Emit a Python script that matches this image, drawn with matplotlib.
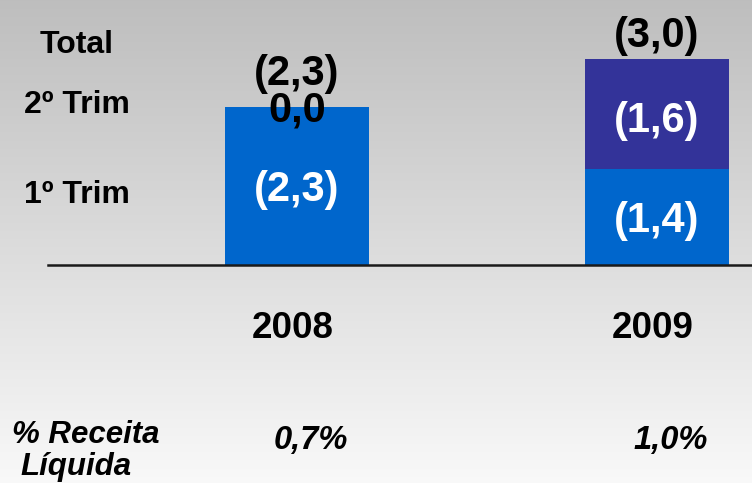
import numpy as np
import matplotlib
matplotlib.use("Agg")
import matplotlib.pyplot as plt

years = ["2008", "2009"]
q1 = [2.3, 1.4]
q2 = [0.0, 1.6]
totals = [2.3, 3.0]
pct_receita = ["0,7%", "1,0%"]
row_labels = ["Total", "2º Trim", "1º Trim"]

c_q1 = "#0066CC"
c_q2 = "#333399"

def fmt(v):
    s = f"{v:.1f}".replace(".", ",")
    return s if v == 0 else f"({s})"

W, H = 752, 483
fig = plt.figure(figsize=(W / 100, H / 100), dpi=100)
plt.rcParams['font.family'] = ['Liberation Sans', 'DejaVu Sans']

# background gradient
bg = fig.add_axes([0, 0, 1, 1], zorder=0)
grad = np.linspace(0, 1, 256)[:, None]
top = np.array([0.745, 0.745, 0.745])
bot = np.array([0.975, 0.975, 0.975])
img = top[None, None, :] * (1 - grad[..., None]) + bot[None, None, :] * grad[..., None]
img = np.repeat(img, 4, axis=1)
bg.imshow(img, aspect='auto', extent=[0, 1, 0, 1], origin='upper')
bg.set_xlim(0, 1); bg.set_ylim(0, 1)
bg.axis('off')

ax = fig.add_axes([0, 0, 1, 1], zorder=1)
ax.patch.set_alpha(0)
px_per_x = 360.0
px_per_y = 68.5
x0_px = 297.0
base_px = 265.0  # from top
ax.set_xlim((0 - x0_px) / px_per_x, (W - x0_px) / px_per_x)
ax.set_ylim(-(H - base_px) / px_per_y, base_px / px_per_y)
ax.axis('off')

x = np.arange(len(years))
bw = 144 / px_per_x
ax.bar(x, q1, width=bw, color=c_q1, zorder=2)
ax.bar(x, q2, width=bw, bottom=q1, color=c_q2, zorder=2)

# baseline
ax.plot([(48 - x0_px) / px_per_x, (W - x0_px) / px_per_x], [0, 0], color="#1a1a1a", lw=1.8, zorder=3)

fs_val = 30
for i in range(len(years)):
    ax.annotate(fmt(q1[i]), (x[i], q1[i] / 2), xytext=(0, -3), textcoords='offset points',
                ha='center', va='center', fontsize=fs_val, fontweight='bold', color='white', zorder=4)
    if q2[i] > 0:
        ax.annotate(fmt(q2[i]), (x[i], q1[i] + q2[i] / 2), xytext=(0, -5), textcoords='offset points',
                    ha='center', va='center', fontsize=fs_val, fontweight='bold', color='white', zorder=4)
        ax.annotate(fmt(totals[i]), (x[i], totals[i]), xytext=(0, 17), textcoords='offset points',
                    ha='center', va='center', fontsize=fs_val, fontweight='bold', color='black', zorder=4)
    else:
        ax.annotate(fmt(q2[i]), (x[i], totals[i]), xytext=(0, -2), textcoords='offset points',
                    ha='center', va='center', fontsize=fs_val, fontweight='bold', color='black', zorder=4)
        ax.annotate(fmt(totals[i]), (x[i], totals[i]), xytext=(0, 24), textcoords='offset points',
                    ha='center', va='center', fontsize=fs_val, fontweight='bold', color='black', zorder=4)
    ax.annotate(years[i], (x[i], 0), xytext=(-3, -46), textcoords='offset points',
                ha='center', va='center', fontsize=26.5, fontweight='bold', color='black')
    ax.annotate(pct_receita[i], (x[i], 0), xytext=(10, -126), textcoords='offset points',
                ha='center', va='center', fontsize=23.5, fontweight='bold', style='italic', color='black')

# row labels (figure pixel coords)
row_y = [45, 105, 195]
for lab, yy in zip(row_labels, row_y):
    fig.text(77 / W, 1 - yy / H, lab, ha='center', va='center', fontsize=23,
             fontweight='bold', color='black', zorder=5)

fig.text(86 / W, 1 - 435 / H, "% Receita", ha='center', va='center', fontsize=22.5,
         fontweight='bold', style='italic', color='black', zorder=5)
fig.text(76 / W, 1 - 467 / H, "Líquida", ha='center', va='center', fontsize=22.5,
         fontweight='bold', style='italic', color='black', zorder=5)

fig.savefig("out.png", dpi=100)
